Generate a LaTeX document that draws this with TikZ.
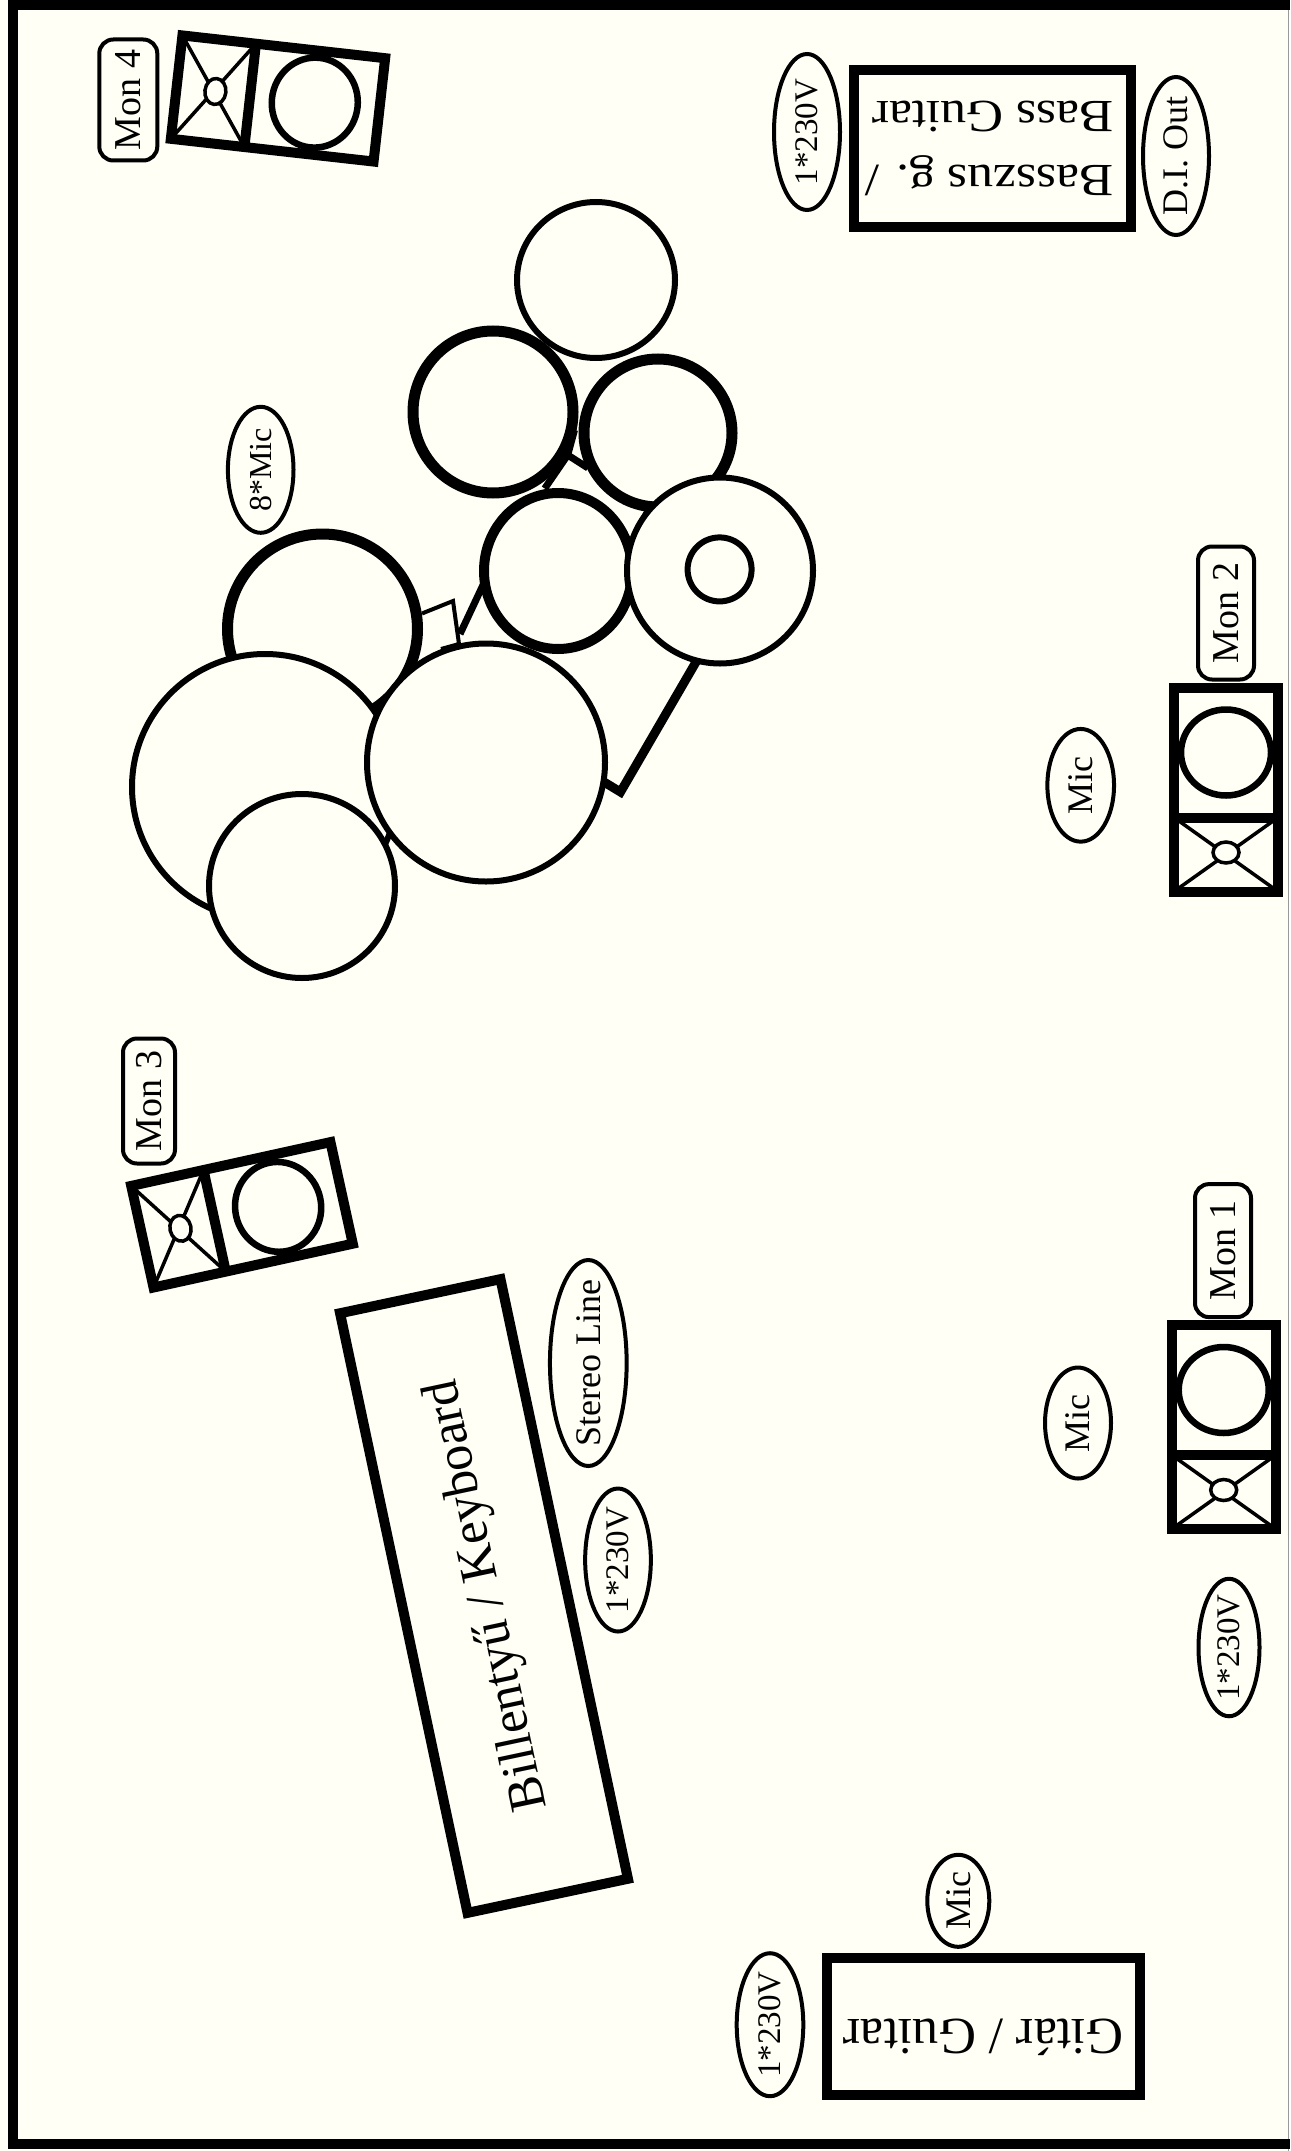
\documentclass[tikz,border=0pt]{standalone}
\usepackage{fontspec}
\setmainfont{Liberation Serif}
\newfontfamily\widefont[FakeStretch=1.12]{Liberation Serif}
\usepackage{tikz}
\usetikzlibrary{shapes.geometric}
\definecolor{paper}{HTML}{FFFFF5}
\newcommand{\monitor}[1]{%
  \begin{scope}[#1]
    \draw[monbox] (-102,-52) rectangle (102,52);
    \draw[monbox] (-28,-52) -- (-28,52);
    \draw[monthin] (-102,-52) -- (-28,52);
    \draw[monthin] (-102,52) -- (-28,-52);
    \draw[monthin, fill=paper] (-63,0) ellipse (10.5 and 13);
    \draw[monring] (37,0) ellipse (43 and 45);
  \end{scope}}
\begin{document}
\begin{tikzpicture}[
    x=1pt, y=-1pt,
    stagebox/.style={draw, line width=10pt, fill=paper, align=center, font=\fontsize{52}{64}\selectfont},
    monlabel/.style={draw, line width=4pt, rounded corners=14pt, rotate=90, inner sep=0pt, font=\fontsize{38}{40}\selectfont},
    inlabel/.style={draw, ellipse, line width=4pt, rotate=90, inner sep=-14pt, font=\fontsize{36}{40}\selectfont},
    powerlabel/.style={inlabel, font=\fontsize{33}{36}\selectfont},
    monbox/.style={line width=10pt},
    monthin/.style={line width=3.5pt},
    monring/.style={line width=6.5pt},
    drumthin/.style={draw, line width=6pt, fill=paper},
    drumthick/.style={draw, line width=11pt, fill=paper},
    rack/.style={line width=7pt},
]
\useasboundingbox (0,0) rectangle (1290,2151);
% Stage
\fill[paper] (0,0) rectangle (1290,2151);
\draw[black!40, line width=1.5pt] (1288.5,0) -- (1288.5,2151);
\draw[line width=10pt] (1290,4.7) -- (13.3,4.7) -- (13.3,2144) -- (1290,2144);
% Monitors
\monitor{shift={(278,98.5)}, rotate=-6.4}
\monitor{shift={(242,1214.8)}, rotate=12.4}
\monitor{shift={(1226,789.5)}, rotate=90}
\monitor{shift={(1223.7,1427)}, rotate=90}
\node[monlabel, minimum width=121pt, minimum height=58pt] (mon4) at (128.3,100) {Mon 4};
\node[monlabel, minimum width=125pt, minimum height=52pt] (mon3) at (149,1101) {Mon 3};
\node[monlabel, minimum width=133pt, minimum height=56pt] (mon2) at (1226,613) {Mon 2};
\node[monlabel, minimum width=133pt, minimum height=56pt] (mon1) at (1223,1250.6) {Mon 1};
% Drum rack
\draw[rack] (544.7,488.5) -- (567.7,455) -- (588,468);
\draw[rack] (567.7,455) -- (574.5,430);
\draw[rack] (648,511) -- (634,537);
\draw[rack] (460,634) -- (483,585);
\draw[rack, line width=9pt] (696,662) -- (620.5,792) -- (604,782);
% Drums
\draw[drumthick] (322.5,629) circle (95);
\draw[line width=4pt, fill=paper] (422,613.5) -- (453,601) -- (459,644) -- (441,649);
\draw[drumthin] (265,787) circle (133);
\draw[drumthin] (596,280) ellipse (79 and 78);
\draw[drumthick] (493,412) ellipse (80 and 81);
\draw[drumthick] (658,433) ellipse (74 and 74);
\draw[drumthick, line width=10pt] (558,571) ellipse (74 and 78);
\draw[drumthin] (486,762.5) circle (119);
\draw[drumthin] (302,886) ellipse (93 and 92);
\draw[drumthin] (720,570.5) circle (93);
\draw[drumthin] (719.6,569.4) circle (32);
% Instruments
\node[stagebox, rotate=180, minimum width=276.7pt, minimum height=156.7pt, font=\widefont\fontsize{46}{64}\selectfont] (bass) at (992.4,148.4) {\makebox[243pt][l]{Basszus g. /}\\\makebox[243pt][l]{Bass Guitar}};
\node[stagebox, rotate=180, minimum width=313.3pt, minimum height=137pt] (guitar) at (983.4,2026.5) {\rule[-22pt]{0pt}{1pt}Gitár / Guitar};
\node[stagebox, rotate=102, minimum width=613pt, minimum height=164pt] (keys) at (484,1596) {\rule{0pt}{45pt}Billentyű / Keyboard};
% Inputs
\node[powerlabel, minimum width=156pt, minimum height=66pt] (power1) at (807,132) {1*230V};
\node[inlabel, minimum width=158pt, minimum height=66pt] (diout) at (1176,156) {D.I. Out};
\node[inlabel, minimum width=126pt, minimum height=65.6pt, font=\fontsize{32}{36}\selectfont] (drummic) at (260.7,469.8) {8*Mic};
\node[inlabel, minimum width=112.7pt, minimum height=66.7pt] (mic2) at (1080.7,785.3) {Mic};
\node[inlabel, minimum width=111pt, minimum height=66pt] (mic1) at (1078,1423) {Mic};
\node[powerlabel, minimum width=137.5pt, minimum height=61pt] (power2) at (1229,1647.5) {1*230V};
\node[inlabel, minimum width=206pt, minimum height=76.7pt] (stereo) at (588.3,1363) {Stereo Line};
\node[powerlabel, minimum width=143pt, minimum height=65.7pt] (power3) at (618,1560) {1*230V};
\node[inlabel, minimum width=92pt, minimum height=62pt] (mic3) at (958.3,1900.8) {Mic};
\node[powerlabel, minimum width=143pt, minimum height=66.6pt] (power4) at (770,2024.7) {1*230V};
\end{tikzpicture}
\end{document}
